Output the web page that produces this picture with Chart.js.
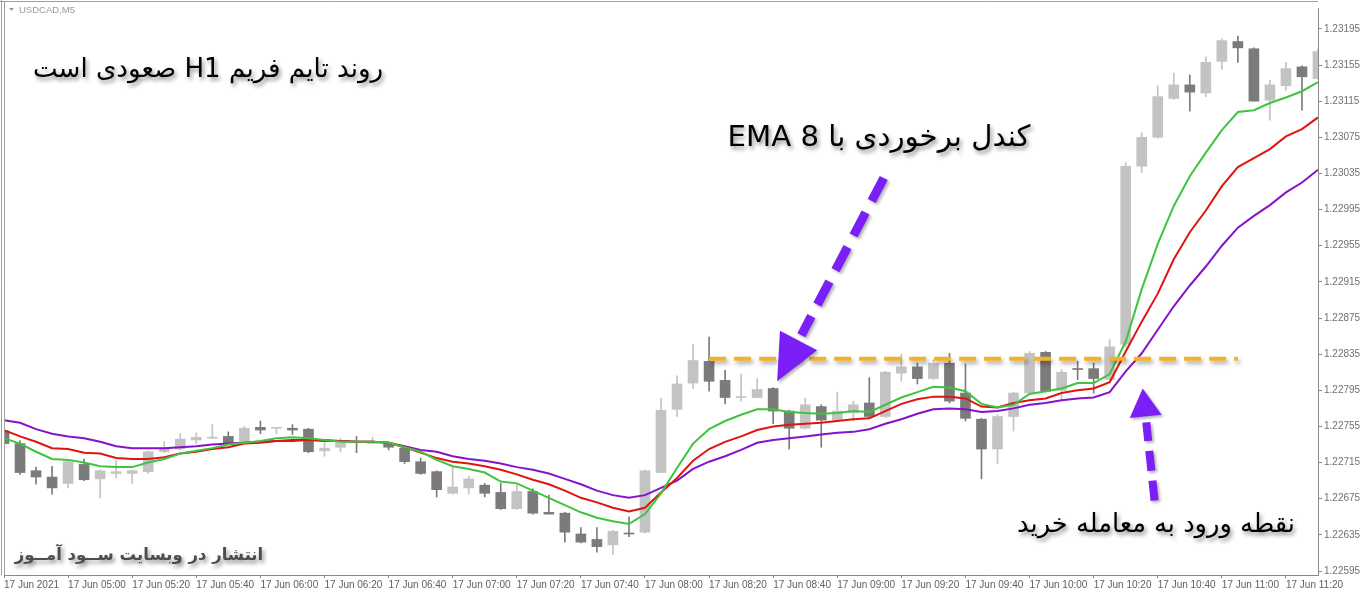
<!DOCTYPE html>
<html>
<head>
<meta charset="utf-8">
<script src="https://cdn.jsdelivr.net/npm/chart.js@4.4.1/dist/chart.umd.min.js"></script>
<style>
html, body { margin: 0; padding: 0; background: #fff; }
</style>
</head>
<body>
<canvas id="chart" width="1364" height="596"></canvas>
<script>
// ------------------------
// Data (USDCAD M5, 17 Jun 2021)
// ------------------------

const times = [
    "04:40", "04:45", "04:50", "04:55",
    "05:00", "05:05", "05:10", "05:15", "05:20", "05:25", "05:30", "05:35", "05:40", "05:45", "05:50", "05:55",
    "06:00", "06:05", "06:10", "06:15", "06:20", "06:25", "06:30", "06:35", "06:40", "06:45", "06:50", "06:55",
    "07:00", "07:05", "07:10", "07:15", "07:20", "07:25", "07:30", "07:35", "07:40", "07:45", "07:50", "07:55",
    "08:00", "08:05", "08:10", "08:15", "08:20", "08:25", "08:30", "08:35", "08:40", "08:45", "08:50", "08:55",
    "09:00", "09:05", "09:10", "09:15", "09:20", "09:25", "09:30", "09:35", "09:40", "09:45", "09:50", "09:55",
    "10:00", "10:05", "10:10", "10:15", "10:20", "10:25", "10:30", "10:35", "10:40", "10:45", "10:50", "10:55",
    "11:00", "11:05", "11:10", "11:15", "11:20", "11:25", "11:30"
];

const open = [
    1.22750, 1.22736, 1.22706, 1.22699, 1.22692, 1.22713, 1.22697, 1.22703, 1.22703, 1.22705,
    1.22727, 1.22730, 1.22740, 1.22742, 1.22744, 1.22736, 1.22754, 1.22753, 1.22753, 1.22752,
    1.22728, 1.22732, 1.22738, 1.22736, 1.22736, 1.22731, 1.22716, 1.22705, 1.22681, 1.22687,
    1.22690, 1.22682, 1.22664, 1.22683, 1.22660, 1.22659, 1.22636, 1.22630, 1.22624, 1.22637,
    1.22638, 1.22704, 1.22774, 1.22803, 1.22827, 1.22806, 1.22787, 1.22787, 1.22797, 1.22772,
    1.22753, 1.22777, 1.22762, 1.22770, 1.22781, 1.22766, 1.22814, 1.22821, 1.22808, 1.22825,
    1.22792, 1.22763, 1.22730, 1.22766, 1.22792, 1.22837, 1.22795, 1.22819, 1.22819, 1.22807,
    1.22846, 1.23043, 1.23075, 1.23118, 1.23133, 1.23124, 1.23159, 1.23181, 1.23173, 1.23116,
    1.23132, 1.23153, 1.23140
];

const high = [
    1.22753, 1.22739, 1.22710, 1.22711, 1.22717, 1.22719, 1.22707, 1.22717, 1.22707, 1.22728,
    1.22738, 1.22747, 1.22748, 1.22757, 1.22749, 1.22755, 1.22761, 1.22754, 1.22757, 1.22753,
    1.22737, 1.22742, 1.22744, 1.22743, 1.22738, 1.22732, 1.22720, 1.22706, 1.22711, 1.22700,
    1.22692, 1.22692, 1.22690, 1.22686, 1.22679, 1.22660, 1.22643, 1.22643, 1.22640, 1.22655,
    1.22707, 1.22786, 1.22811, 1.22846, 1.22854, 1.22817, 1.22813, 1.22808, 1.22798, 1.22773,
    1.22786, 1.22779, 1.22793, 1.22783, 1.22809, 1.22816, 1.22835, 1.22825, 1.22829, 1.22836,
    1.22824, 1.22764, 1.22768, 1.22793, 1.22838, 1.22838, 1.22818, 1.22827, 1.22825, 1.22851,
    1.23047, 1.23080, 1.23132, 1.23146, 1.23144, 1.23164, 1.23184, 1.23187, 1.23174, 1.23138,
    1.23158, 1.23154, 1.23173
];

const low = [
    1.22732, 1.22702, 1.22691, 1.22680, 1.22687, 1.22695, 1.22676, 1.22698, 1.22692, 1.22703,
    1.22726, 1.22729, 1.22736, 1.22742, 1.22735, 1.22736, 1.22747, 1.22747, 1.22746, 1.22726,
    1.22722, 1.22727, 1.22726, 1.22736, 1.22729, 1.22714, 1.22702, 1.22677, 1.22680, 1.22680,
    1.22677, 1.22663, 1.22663, 1.22658, 1.22658, 1.22627, 1.22626, 1.22616, 1.22613, 1.22633,
    1.22637, 1.22704, 1.22766, 1.22797, 1.22794, 1.22780, 1.22783, 1.22787, 1.22758, 1.22730,
    1.22752, 1.22732, 1.22761, 1.22761, 1.22765, 1.22765, 1.22805, 1.22802, 1.22807, 1.22781,
    1.22761, 1.22697, 1.22714, 1.22750, 1.22791, 1.22793, 1.22785, 1.22807, 1.22792, 1.22806,
    1.22843, 1.23036, 1.23074, 1.23117, 1.23104, 1.23120, 1.23150, 1.23158, 1.23115, 1.23094,
    1.23127, 1.23105, 1.23139
];

const close = [
    1.22736, 1.22704, 1.22699, 1.22687, 1.22716, 1.22696, 1.22706, 1.22705, 1.22706, 1.22727,
    1.22731, 1.22741, 1.22743, 1.22743, 1.22736, 1.22753, 1.22751, 1.22754, 1.22751, 1.22727,
    1.22731, 1.22737, 1.22737, 1.22738, 1.22732, 1.22716, 1.22703, 1.22685, 1.22688, 1.22697,
    1.22681, 1.22664, 1.22683, 1.22659, 1.22658, 1.22638, 1.22627, 1.22622, 1.22639, 1.22636,
    1.22706, 1.22773, 1.22802, 1.22828, 1.22805, 1.22787, 1.22788, 1.22796, 1.22772, 1.22753,
    1.22779, 1.22762, 1.22772, 1.22779, 1.22766, 1.22815, 1.22821, 1.22808, 1.22825, 1.22783,
    1.22764, 1.22730, 1.22766, 1.22792, 1.22836, 1.22794, 1.22815, 1.22818, 1.22808, 1.22843,
    1.23043, 1.23075, 1.23120, 1.23133, 1.23125, 1.23158, 1.23182, 1.23174, 1.23115, 1.23133,
    1.23151, 1.23142, 1.23170
];

// EMA 8 (green)
const emaGreen = [
    1.22742, 1.22736, 1.22727, 1.22719, 1.22718, 1.22715, 1.22711, 1.22710, 1.22710, 1.22715,
    1.22719, 1.22725, 1.22728, 1.22731, 1.22735, 1.22737, 1.22739, 1.22742, 1.22743, 1.22742,
    1.22740, 1.22738, 1.22738, 1.22738, 1.22737, 1.22732, 1.22727, 1.22718, 1.22711, 1.22708,
    1.22704, 1.22694, 1.22692, 1.22684, 1.22676, 1.22668, 1.22660, 1.22654, 1.22650, 1.22647,
    1.22658, 1.22681, 1.22709, 1.22736, 1.22752, 1.22761, 1.22768, 1.22774, 1.22774, 1.22771,
    1.22770, 1.22769, 1.22770, 1.22772, 1.22771, 1.22779, 1.22787, 1.22793, 1.22799, 1.22798,
    1.22794, 1.22780, 1.22776, 1.22779, 1.22791, 1.22794, 1.22797, 1.22803, 1.22803, 1.22813,
    1.22849, 1.22907, 1.22957, 1.22999, 1.23032, 1.23058, 1.23083, 1.23103, 1.23105, 1.23113,
    1.23119, 1.23126, 1.23136
];

const emaRed = [
    1.22751, 1.22744, 1.22738, 1.22731, 1.22730, 1.22726, 1.22725, 1.22720, 1.22719, 1.22719,
    1.22721, 1.22725, 1.22727, 1.22730, 1.22732, 1.22736, 1.22737, 1.22739, 1.22739, 1.22740,
    1.22740, 1.22739, 1.22738, 1.22738, 1.22737, 1.22732, 1.22726, 1.22720, 1.22716, 1.22714,
    1.22711, 1.22707, 1.22702, 1.22696, 1.22691, 1.22684, 1.22676, 1.22671, 1.22665, 1.22661,
    1.22665, 1.22682, 1.22698, 1.22717, 1.22730, 1.22738, 1.22744, 1.22751, 1.22755, 1.22757,
    1.22758, 1.22759, 1.22761, 1.22763, 1.22764, 1.22772, 1.22780, 1.22785, 1.22788, 1.22788,
    1.22786, 1.22777, 1.22776, 1.22781, 1.22784, 1.22786, 1.22792, 1.22795, 1.22797, 1.22804,
    1.22838, 1.22871, 1.22902, 1.22940, 1.22970, 1.22994, 1.23021, 1.23042, 1.23052, 1.23062,
    1.23076, 1.23084, 1.23097
];

const emaPurple = [
    1.22762, 1.22759, 1.22752, 1.22747, 1.22744, 1.22742, 1.22738, 1.22733, 1.22731, 1.22731,
    1.22731, 1.22732, 1.22733, 1.22735, 1.22736, 1.22737, 1.22738, 1.22739, 1.22740, 1.22740,
    1.22739, 1.22739, 1.22738, 1.22738, 1.22737, 1.22733, 1.22729, 1.22727, 1.22722, 1.22719,
    1.22717, 1.22714, 1.22710, 1.22707, 1.22703, 1.22697, 1.22691, 1.22684, 1.22679, 1.22676,
    1.22679, 1.22687, 1.22695, 1.22708, 1.22716, 1.22722, 1.22729, 1.22737, 1.22740, 1.22742,
    1.22744, 1.22746, 1.22748, 1.22749, 1.22752, 1.22758, 1.22763, 1.22769, 1.22774, 1.22775,
    1.22774, 1.22771, 1.22772, 1.22775, 1.22779, 1.22781, 1.22784, 1.22786, 1.22787, 1.22793,
    1.22816, 1.22836, 1.22862, 1.22888, 1.22911, 1.22932, 1.22955, 1.22975, 1.22988, 1.23000,
    1.23014, 1.23025, 1.23039
];

const priceTicks = [
    1.22595, 1.22635, 1.22675, 1.22715, 1.22755, 1.22795, 1.22835, 1.22875,
    1.22915, 1.22955, 1.22995, 1.23035, 1.23075, 1.23115, 1.23155, 1.23195
];

// resistance level drawn from bar 08:20 to 11:05
const levelPrice = 1.22830;
const levelFrom = 44;
const levelTo = 77;

// ------------------------
// Derived tables
// ------------------------

const BULL = "#c3c3c3";
const BEAR = "#7b7b7b";

const bodies = open.map((o, i) => [o, close[i]]);
const wicks = low.map((l, i) => [l, high[i]]);
const candleColors = open.map((o, i) => close[i] >= o ? BULL : BEAR);
const levelLine = times.map((t, i) => (i >= levelFrom && i <= levelTo) ? levelPrice : null);

// ------------------------
// Overlay: frame, texts, arrows
// ------------------------

const texts = [
    { text: "روند تایم فریم H1 صعودی است", cx: 208, cy: 70, width: 350, weight: "normal", color: "#000" },
    { text: "کندل برخوردی با EMA 8", cx: 879, cy: 138, width: 303, weight: "normal", color: "#000" },
    { text: "نقطه ورود به معامله خرید", cx: 1156, cy: 525, width: 278, weight: "normal", color: "#000" },
    { text: "انتشار در وبسایت ســود آمــوز", cx: 139, cy: 556, width: 248, weight: "bold", color: "#4d4d4d" }
];

const arrows = [
    { from: [54.9, 1.23030], to: [48.25, 1.22805], head: 46, half: 21, width: 9, dash: [26, 13] },
    { from: [71.8, 1.22673], to: [71.06, 1.22797], head: 28, half: 16, width: 8, dash: [20, 10] }
];

function drawText(ctx, t) {
    ctx.save();
    ctx.direction = "rtl";
    ctx.font = t.weight + ' 40px "DejaVu Sans"';
    const size = 40 * t.width / ctx.measureText(t.text).width;
    ctx.font = t.weight + " " + size.toFixed(1) + 'px "DejaVu Sans"';
    ctx.textAlign = "center";
    ctx.textBaseline = "middle";
    ctx.fillStyle = t.color;
    ctx.shadowColor = "rgba(0,0,0,0.45)";
    ctx.shadowBlur = 4;
    ctx.shadowOffsetX = 2;
    ctx.shadowOffsetY = 3;
    ctx.fillText(t.text, t.cx, t.cy);
    ctx.restore();
}

function drawArrow(ctx, x0, y0, x1, y1, a) {
    const len = Math.hypot(x1 - x0, y1 - y0);
    const ux = (x1 - x0) / len, uy = (y1 - y0) / len;
    const bx = x1 - ux * a.head, by = y1 - uy * a.head;
    ctx.save();
    ctx.shadowColor = "rgba(0,0,0,0.3)";
    ctx.shadowBlur = 3;
    ctx.shadowOffsetX = 2;
    ctx.shadowOffsetY = 2;
    ctx.strokeStyle = "#7a1ff5";
    ctx.fillStyle = "#7a1ff5";
    ctx.lineWidth = a.width;
    ctx.setLineDash(a.dash);
    ctx.beginPath();
    ctx.moveTo(x0, y0);
    ctx.lineTo(bx - ux * 6, by - uy * 6);
    ctx.stroke();
    ctx.setLineDash([]);
    ctx.beginPath();
    ctx.moveTo(x1, y1);
    ctx.lineTo(bx - uy * a.half, by + ux * a.half);
    ctx.lineTo(bx + uy * a.half, by - ux * a.half);
    ctx.closePath();
    ctx.fill();
    ctx.restore();
}

const overlay = {
    id: "overlay",
    beforeDatasetDraw(chart, args) {
        if (chart.data.datasets[args.index].label === "level") {
            const ctx = chart.ctx;
            ctx.save();
            ctx.shadowColor = "rgba(0,0,0,0.35)";
            ctx.shadowBlur = 4;
            ctx.shadowOffsetX = 2;
            ctx.shadowOffsetY = 3;
        }
    },
    afterDatasetDraw(chart, args) {
        if (chart.data.datasets[args.index].label === "level") {
            chart.ctx.restore();
        }
    },
    afterDraw(chart) {
        const ctx = chart.ctx;
        const xs = chart.scales.x, ys = chart.scales.y;
        const area = chart.chartArea;

        // window frame
        ctx.save();
        ctx.strokeStyle = "#a0a0a0";
        ctx.lineWidth = 1;
        ctx.beginPath();
        ctx.moveTo(1.5, 0);
        ctx.lineTo(1.5, area.bottom);
        ctx.moveTo(area.left + 0.5, 1.5);
        ctx.lineTo(area.left + 0.5, area.bottom);
        ctx.moveTo(0, 1.5);
        ctx.lineTo(area.right, 1.5);
        ctx.stroke();

        // symbol caption
        ctx.fillStyle = "#9a9a9a";
        ctx.beginPath();
        ctx.moveTo(9, 8);
        ctx.lineTo(14, 8);
        ctx.lineTo(11.5, 11);
        ctx.closePath();
        ctx.fill();
        ctx.font = '9.5px "Liberation Sans"';
        ctx.textBaseline = "middle";
        ctx.fillText("USDCAD,M5", 19, 10);
        ctx.restore();

        arrows.forEach(a => {
            drawArrow(ctx,
                xs.getPixelForValue(a.from[0]), ys.getPixelForValue(a.from[1]),
                xs.getPixelForValue(a.to[0]), ys.getPixelForValue(a.to[1]), a);
        });

        texts.forEach(t => drawText(ctx, t));
    }
};

// ------------------------
// Chart
// ------------------------

Chart.defaults.font.family = '"Liberation Sans", Arial, sans-serif';
Chart.defaults.font.size = 10;
Chart.defaults.color = "#707070";

new Chart(document.getElementById("chart"), {

    type: "bar",

    data: {

        labels: times,

        datasets: [

            {
                label: "level",
                type: "line",
                data: levelLine,
                borderColor: "#f2b32b",
                borderWidth: 4,
                borderDash: [17, 8],
                pointRadius: 0,
                spanGaps: false,
                clip: 0,
                order: 0
            },

            {
                label: "EMA 8",
                type: "line",
                data: emaGreen,
                borderColor: "#3ec43e",
                borderWidth: 2,
                pointRadius: 0,
                tension: 0,
                clip: 0,
                order: 1
            },

            {
                label: "EMA red",
                type: "line",
                data: emaRed,
                borderColor: "#e0140f",
                borderWidth: 2,
                pointRadius: 0,
                tension: 0,
                clip: 0,
                order: 2
            },

            {
                label: "EMA purple",
                type: "line",
                data: emaPurple,
                borderColor: "#8612cc",
                borderWidth: 2,
                pointRadius: 0,
                tension: 0,
                clip: 0,
                order: 3
            },

            {
                label: "body",
                data: bodies,
                backgroundColor: candleColors,
                barThickness: 10,
                minBarLength: 1,
                grouped: false,
                borderWidth: 0,
                clip: 0,
                order: 4
            },

            {
                label: "wick",
                data: wicks,
                backgroundColor: candleColors,
                barThickness: 1,
                minBarLength: 1,
                grouped: false,
                borderWidth: 0,
                clip: 0,
                order: 5
            }

        ]

    },

    options: {

        responsive: false,
        animation: false,
        events: [],

        layout: {
            padding: { left: 4, top: 4, right: 0, bottom: 0 }
        },

        plugins: {
            legend: { display: false },
            tooltip: { enabled: false }
        },

        scales: {

            x: {
                offset: false,
                grid: {
                    offset: false,
                    drawOnChartArea: false,
                    drawTicks: true,
                    tickLength: 3,
                    color: "#8a8a8a"
                },
                border: { display: true, color: "#8a8a8a" },
                ticks: {
                    autoSkip: false,
                    maxRotation: 0,
                    minRotation: 0,
                    align: "start",
                    padding: 1,
                    color: "#606060",
                    callback(value, index) {
                        if (index === 0) return "17 Jun 2021";
                        const t = times[index];
                        return /:(00|20|40)$/.test(t) ? "17 Jun " + t : null;
                    }
                },
                afterFit(scale) {
                    scale.height = 21;
                }
            },

            y: {
                position: "right",
                min: 1.225906,
                max: 1.232181,
                grid: {
                    drawOnChartArea: false,
                    drawTicks: true,
                    tickLength: 4,
                    color: "#8a8a8a"
                },
                border: { display: true, color: "#8a8a8a" },
                ticks: {
                    padding: 2,
                    color: "#707070",
                    callback: v => v.toFixed(5)
                },
                afterBuildTicks(scale) {
                    scale.ticks = priceTicks.map(v => ({ value: v }));
                },
                afterFit(scale) {
                    scale.width = 46;
                }
            }

        }

    },

    plugins: [overlay]

});
</script>
</body>
</html>
